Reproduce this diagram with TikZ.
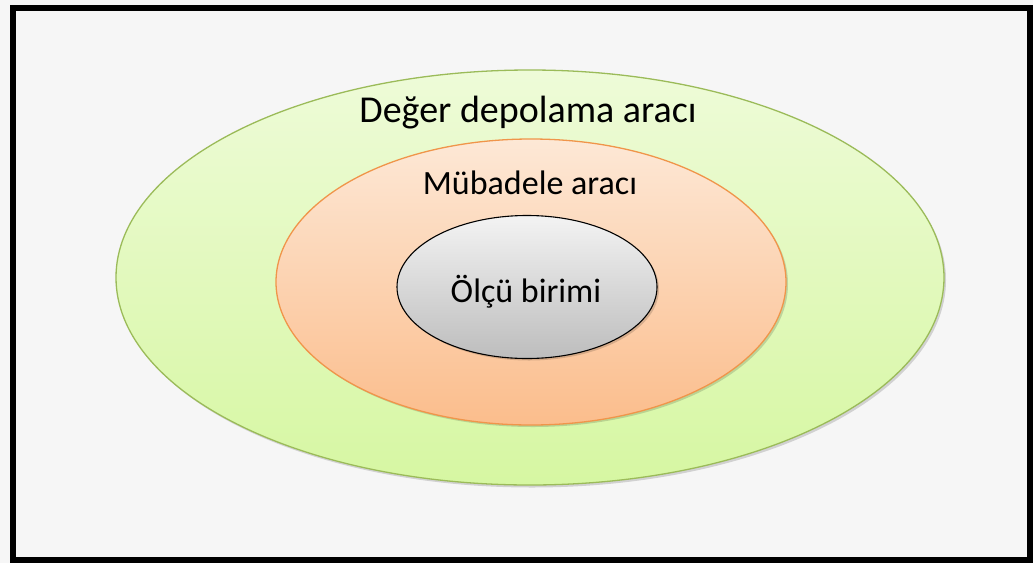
\documentclass[tikz,border=0pt]{standalone}
\usepackage{fontspec}
\setmainfont{Carlito}
\definecolor{bgc}{HTML}{F6F6F6}
\definecolor{gtop}{HTML}{EEFBD8}
\definecolor{gbot}{HTML}{D6F7A2}
\definecolor{gline}{HTML}{9BBB59}
\definecolor{otop}{HTML}{FDE8D6}
\definecolor{obot}{HTML}{FBBD8C}
\definecolor{oline}{HTML}{F0954A}
\definecolor{ctop}{HTML}{F3F3F3}
\definecolor{cbot}{HTML}{BDBDBD}
\tikzset{
  lbl/.style={text=black, inner sep=0pt},
  shadowfill/.style={fill=black, opacity=0.15},
}
\begin{document}
\begin{tikzpicture}[x=1pt,y=-1pt]
\fill[bgc] (0,0) rectangle (1033,563);
\useasboundingbox (0,0) rectangle (1033,563);
\draw[line width=6pt] (13,8) rectangle (1030,560);
% outer
\fill[shadowfill] (532,280) ellipse [x radius=414, y radius=207.5];
\shade[top color=gtop, bottom color=gbot] (530,277.5) ellipse [x radius=414, y radius=207.5];
\draw[gline, line width=1.3pt] (530,277.5) ellipse [x radius=414, y radius=207.5];
% middle
\fill[shadowfill] (533,284) ellipse [x radius=255, y radius=143];
\shade[top color=otop, bottom color=obot] (531,282) ellipse [x radius=255, y radius=143];
\draw[oline, line width=1.3pt] (531,282) ellipse [x radius=255, y radius=143];
% inner
\fill[shadowfill] (529,289) ellipse [x radius=130, y radius=71.5];
\shade[top color=ctop, bottom color=cbot] (527,287) ellipse [x radius=130, y radius=71.5];
\draw[black, line width=1.1pt] (527,287) ellipse [x radius=130, y radius=71.5];
\node[lbl, font=\fontsize{38}{44}\selectfont] (t1) at (528,113) {Değer depolama aracı};
\node[lbl, font=\fontsize{34}{40}\selectfont] (t2) at (530,183) {Mübadele aracı};
\node[lbl, font=\fontsize{34}{40}\selectfont] (t3) at (526,292) {Ölçü birimi};
\end{tikzpicture}
\end{document}
